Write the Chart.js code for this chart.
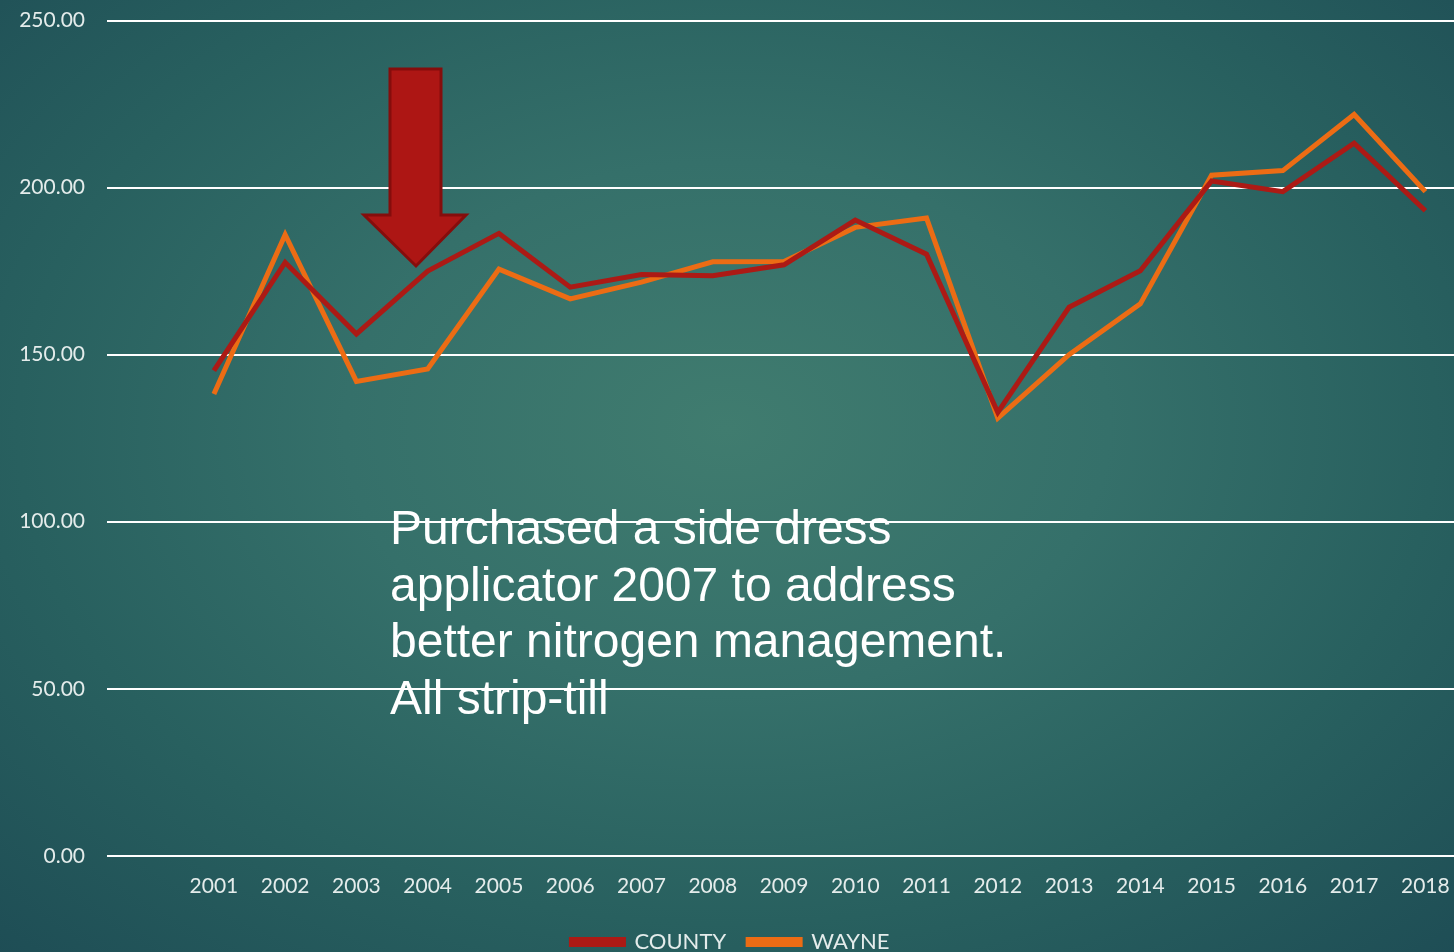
<!DOCTYPE html>
<html>
<head>
<meta charset="utf-8">
<script src="https://cdn.jsdelivr.net/npm/chart.js@4.4.1/dist/chart.umd.min.js"></script>
<style>
  html, body { margin: 0; padding: 0; width: 1454px; height: 952px; overflow: hidden; }
  body {
    background: radial-gradient(ellipse 75% 80% at 50% 45%, #407c6f 0%, #35706a 35%, #28605f 65%, #1d4b54 100%);
    position: relative;
  }
  #wrap { position: absolute; left: 0; top: -14px; width: 1480px; height: 977px; }
  #note {
    position: absolute; left: 390px; top: 500px;
    font-family: "Liberation Sans", Arial, sans-serif; font-size: 48px; line-height: 56.5px;
    color: #ffffff; white-space: pre;
  }
</style>
</head>
<body>
<div id="wrap"><canvas id="c" width="1480" height="977"></canvas></div>
<div id="note">Purchased a side dress
applicator 2007 to address
better nitrogen management.
All strip-till</div>
<script>
const years = ['2001','2002','2003','2004','2005','2006','2007','2008','2009',
               '2010','2011','2012','2013','2014','2015','2016','2017','2018'];
const county = [145.2, 177.6, 156.2, 175.0, 186.3, 170.2, 174.0, 173.6, 176.9,
                190.3, 180.1, 132.7, 164.2, 175.1, 202.0, 198.8, 213.3, 193.1];
const wayne  = [138.2, 185.9, 142.0, 145.7, 175.6, 166.7, 171.7, 177.8, 177.9,
                188.1, 190.9, 131.0, 150.0, 165.2, 203.7, 205.1, 221.9, 198.8];
const yTicks = [0, 50, 100, 150, 200, 250];

const tickColor = '#e4eceb';
const tickFont = { family: 'Lato, "Open Sans", sans-serif', size: 21 };
const legendFont = { family: 'Lato, "Open Sans", sans-serif', size: 22 };

// Block arrow pointing down at the 2004 data
const arrowPlugin = {
  id: 'arrow',
  afterDatasetsDraw(chart) {
    const ctx = chart.ctx;
    const dy = 14; // canvas sits 14px above the page top
    ctx.save();
    ctx.translate(0, dy);
    ctx.beginPath();
    ctx.moveTo(390, 69);
    ctx.lineTo(441, 69);
    ctx.lineTo(441, 215);
    ctx.lineTo(466, 215);
    ctx.lineTo(416, 266);
    ctx.lineTo(364, 215);
    ctx.lineTo(390, 215);
    ctx.closePath();
    ctx.fillStyle = '#ad1614';
    ctx.fill();
    ctx.lineWidth = 3;
    ctx.strokeStyle = '#850d0c';
    ctx.stroke();
    ctx.restore();
  }
};

new Chart(document.getElementById('c'), {
  type: 'line',
  data: {
    labels: [''].concat(years),
    datasets: [
      { label: 'COUNTY', data: [null].concat(county), borderColor: '#ac1a15', backgroundColor: '#ac1a15',
        borderWidth: 5, pointRadius: 0, tension: 0 },
      { label: 'WAYNE', data: [null].concat(wayne), borderColor: '#ec6c14', backgroundColor: '#ec6c14',
        borderWidth: 5, pointRadius: 0, tension: 0 }
    ]
  },
  options: {
    responsive: false,
    animation: false,
    devicePixelRatio: 1,
    layout: { padding: { top: 8, right: 19, left: 0, bottom: 0 } },
    plugins: {
      tooltip: { enabled: false },
      legend: {
        position: 'bottom',
        labels: {
          color: tickColor, font: legendFont, boxWidth: 52, boxHeight: 5, padding: 22
        }
      }
    },
    scales: {
      x: {
        offset: true,
        grid: { display: false },
        border: { display: false },
        ticks: { color: tickColor, font: tickFont, padding: 10, maxRotation: 0, autoSkip: false }
      },
      y: {
        min: 0, max: 250,
        afterBuildTicks(scale) { scale.ticks = yTicks.map(v => ({ value: v })); },
        afterFit(scale) { scale.width = 107; },
        grid: { color: '#ffffff', lineWidth: 2, drawTicks: false },
        border: { display: false },
        ticks: { color: tickColor, font: tickFont, padding: 22,
                 callback: v => Number(v).toFixed(2) }
      }
    }
  },
  plugins: [arrowPlugin]
});
</script>
</body>
</html>
